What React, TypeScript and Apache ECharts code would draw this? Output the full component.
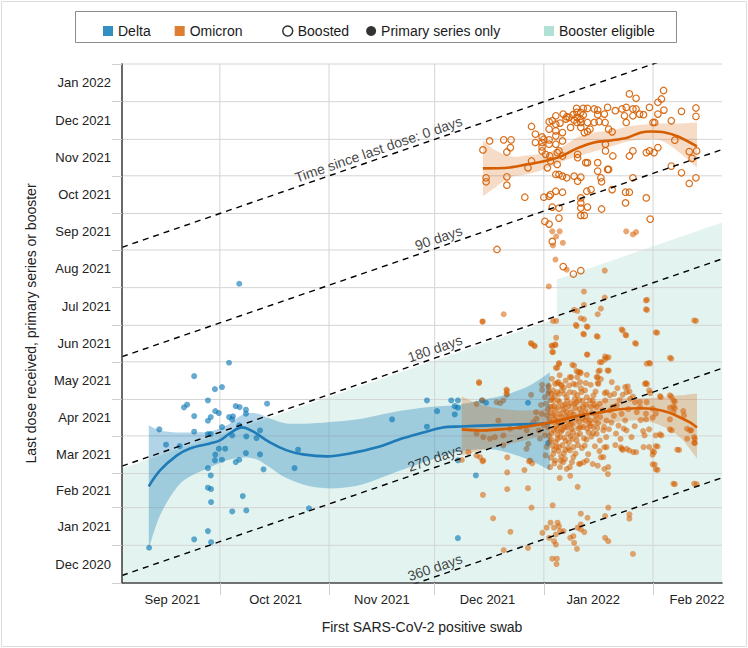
import React, { useEffect, useRef } from "react";
import * as echarts from "echarts";

// x: days since 2021-09-01 (first positive swab); y: days since 2020-12-01 (last dose)
const X_MIN = 2.2;
const X_MAX = 172.6;
const Y_MIN = 0;
const Y_MAX = 427;
const X_TO_Y_SHIFT = 274; // 2021-09-01 minus 2020-12-01, in days

const X_MONTH_STARTS = [30, 61, 91, 122, 153];
const X_LABEL_POS = [16.5, 45.8, 76, 106, 136, 165.5];
const X_LABELS = ["Sep 2021", "Oct 2021", "Nov 2021", "Dec 2021", "Jan 2022", "Feb 2022"];

const Y_MONTH_STARTS = [0, 31, 62, 90, 121, 151, 182, 212, 243, 274, 304, 335, 365, 396, 427];
const Y_LABEL_POS = [15.5, 46.5, 76, 105.5, 136, 166.5, 197, 227.5, 258.5, 289, 319.5, 350, 380.5, 411.5];
const Y_LABELS = [
  "Dec 2020", "Jan 2021", "Feb 2021", "Mar 2021", "Apr 2021", "May 2021", "Jun 2021",
  "Jul 2021", "Aug 2021", "Sep 2021", "Oct 2021", "Nov 2021", "Dec 2021", "Jan 2022",
];

const DOSE_LINE_DAYS = [0, 90, 180, 270, 360];
const DOSE_LINE_LABELS = ["Time since last dose: 0 days", "90 days", "180 days", "270 days", "360 days"];
const DOSE_LABEL_X = 99.5;

// upper edge of the booster-eligible region [x, y]
const BOOSTER_EDGE = [
  [2.2, 94.2],
  [125.7, 217.7],
  [125.7, 249.7],
  [172.6, 296.6],
];

const DELTA_POINTS = [
  [35.5, 246.2], [32.6, 181.2], [22.7, 170.2], [28.6, 159.5], [30.6, 161.2], [19.8, 144.5], [20.7, 146.7],
  [26.6, 150.2], [34.5, 145.5], [35.6, 144.7], [43.4, 147.5], [12.8, 126.4], [22.7, 137.3], [27.4, 136.5],
  [28.7, 141.4], [29.7, 139.8], [26.6, 133.5], [32.6, 136.5], [33.7, 137.1], [33.5, 134.4], [37.4, 142.6],
  [37.4, 139.3], [35.5, 129.7], [30.6, 128.3], [22.7, 124.5], [26.6, 122.5], [27.4, 122.5], [33.5, 121.4],
  [37.5, 120.6], [40.4, 119.2], [41.4, 125.5], [14.7, 113.8], [18.6, 112.6], [29.7, 110.5], [31.5, 110.5],
  [28.7, 105.6], [28.6, 100.9], [30.6, 101.4], [34.5, 99.5], [35.5, 101.4], [37.4, 106.9], [41.4, 105.8],
  [52.2, 109.7], [42.4, 93.5], [51.2, 94.5], [26.6, 94.5], [27.4, 88.5], [26.6, 78.4], [27.5, 77.3],
  [27.5, 66.6], [36.5, 71.5], [33.5, 58.9], [37.5, 59.7], [55.3, 61.4], [22.7, 35.9], [26.6, 42.7],
  [27.5, 33.6], [9.9, 29.0], [78.9, 134.6], [88.8, 150.2], [91.7, 141.4], [88.8, 128.6], [95.7, 150.2],
  [96.7, 145.5], [96.7, 138.7], [97.6, 150.2], [97.6, 144.2], [97.6, 100.9], [97.6, 36.9], [104.4, 150.2],
  [105.6, 148.3], [102.7, 88.5], [117.5, 148.3], [123.2, 115.1],
];

const OMICRON_BOOSTED_POINTS = [
  [104.7, 356.3], [106.6, 363.7], [110.6, 364.6], [112.7, 364.6], [112.5, 358.2], [111.5, 354.6], [105.6, 333.4],
  [105.6, 330.1], [111.5, 334.2], [111.5, 327.3], [116.6, 317.4], [117.5, 341.6], [118.5, 347.2], [118.5, 375.6],
  [119.6, 369.3], [119.6, 362.4], [121.5, 367.0], [121.5, 362.4], [121.5, 358.8], [122.0, 365.1], [123.5, 379.5],
  [123.5, 373.4], [123.5, 364.6], [123.5, 361.0], [124.4, 380.3], [125.4, 384.4], [125.4, 377.5], [125.4, 372.0],
  [125.4, 367.9], [125.4, 361.0], [126.3, 355.5], [126.6, 378.4], [127.3, 370.6], [127.3, 363.7], [127.5, 385.8],
  [128.3, 381.7], [128.5, 383.6], [129.2, 383.1], [129.6, 374.8], [130.3, 385.3], [130.6, 380.9], [131.3, 390.5],
  [131.4, 387.2], [131.4, 383.1], [131.4, 378.9], [132.5, 387.2], [132.5, 381.7], [132.5, 378.9], [132.5, 374.8],
  [133.2, 390.5], [133.2, 385.0], [133.5, 370.6], [134.4, 390.5], [134.4, 378.9], [134.4, 371.5], [135.1, 373.4],
  [136.3, 390.0], [136.3, 378.9], [137.3, 389.1], [137.3, 385.3], [137.7, 379.5], [139.2, 385.8], [139.4, 378.9],
  [140.1, 391.3], [140.4, 373.4], [141.4, 371.2], [142.3, 388.6], [144.2, 390.0], [144.9, 384.4], [145.4, 378.9],
  [145.4, 391.3], [146.3, 402.4], [147.3, 390.0], [147.3, 384.4], [148.2, 398.8], [148.2, 390.0], [149.2, 385.8],
  [150.3, 385.3], [152.0, 391.3], [153.0, 378.9], [153.5, 378.9], [154.4, 395.5], [154.4, 385.8], [155.4, 398.2],
  [156.0, 405.2], [156.1, 389.1], [158.2, 380.3], [161.1, 388.0], [165.2, 390.8], [165.2, 383.9], [121.5, 355.5],
  [122.5, 352.7], [123.7, 351.3], [125.8, 354.1], [127.3, 351.3], [131.6, 352.7], [131.6, 349.9], [134.4, 345.8],
  [137.3, 345.8], [140.1, 340.3], [139.5, 361.0], [139.5, 355.5], [141.6, 351.3], [146.3, 351.3], [147.3, 355.5],
  [151.1, 354.1], [152.0, 355.5], [153.3, 354.1], [154.4, 358.2], [159.2, 364.3], [163.3, 354.9], [164.1, 349.4],
  [165.4, 355.5], [123.0, 341.6], [123.9, 347.2], [125.8, 344.4], [125.4, 336.1], [126.3, 336.1], [127.3, 334.7],
  [128.5, 333.4], [130.6, 334.7], [132.5, 333.9], [131.6, 330.6], [137.3, 338.9], [138.2, 333.4], [138.4, 330.1],
  [140.4, 340.3], [133.9, 345.8], [147.3, 333.4], [158.2, 343.0], [161.1, 337.5], [163.3, 328.7], [165.2, 333.4],
  [122.0, 317.4], [123.5, 318.2], [123.9, 319.6], [125.4, 322.3], [127.3, 321.5], [134.2, 322.3], [135.4, 323.7],
  [141.4, 323.7], [145.2, 321.5], [146.3, 321.5], [145.2, 312.7], [151.1, 316.8], [124.4, 309.3], [126.3, 308.5],
  [132.5, 316.8], [132.5, 312.7], [132.5, 308.5], [134.4, 309.3], [138.4, 307.7], [132.5, 302.4], [133.5, 302.4],
  [126.3, 300.2], [122.3, 297.5], [123.5, 295.3], [152.2, 299.4], [108.7, 274.4], [124.4, 281.0], [127.5, 260.3],
  [130.4, 254.2], [132.5, 257.0],
];

const OMICRON_PRIMARY_POINTS = [
  [124.4, 289.3], [125.5, 285.1], [126.5, 289.3], [145.4, 289.3], [147.3, 286.8], [148.2, 288.7], [127.4, 279.9],
  [124.6, 277.7], [125.3, 266.1], [128.5, 257.8], [123.4, 244.0], [139.3, 257.0], [133.4, 239.8], [139.3, 234.9],
  [151.3, 233.0], [151.3, 224.7], [133.4, 228.8], [138.2, 225.8], [137.3, 221.1], [130.6, 224.7], [131.5, 223.8],
  [132.5, 217.8], [133.4, 216.9], [104.6, 215.0], [110.6, 221.1], [124.6, 215.6], [125.5, 215.6], [131.3, 211.4],
  [134.4, 210.6], [144.4, 207.8], [145.4, 203.7], [154.2, 205.9], [165.2, 215.6], [125.5, 201.8], [137.3, 202.6],
  [133.4, 204.5], [148.2, 196.8], [118.5, 196.8], [119.4, 194.8], [124.4, 194.8], [125.3, 195.7], [124.6, 189.9],
  [134.4, 187.9], [158.2, 184.6], [139.3, 183.8], [140.4, 185.7], [152.2, 180.5], [138.4, 181.6], [126.3, 180.2],
  [125.8, 176.9], [130.6, 178.8], [131.8, 173.6], [129.8, 169.2], [131.5, 169.4], [132.5, 172.7], [137.3, 169.2],
  [138.2, 167.8], [140.4, 174.7], [137.5, 174.1], [103.6, 164.5], [111.5, 158.1], [111.5, 154.8], [109.6, 147.9],
  [118.4, 154.8], [121.5, 163.1], [121.5, 158.9], [123.4, 162.5], [123.4, 157.6], [124.4, 152.0], [125.8, 164.5],
  [126.8, 163.1], [129.2, 162.5], [131.1, 163.1], [132.5, 160.3], [133.9, 164.5], [135.3, 163.1], [137.3, 164.5],
  [139.3, 156.2], [142.0, 155.6], [142.9, 160.3], [144.4, 154.8], [145.8, 161.7], [146.3, 157.6], [147.3, 153.4],
  [151.3, 163.7], [152.2, 156.2], [155.2, 152.9], [158.2, 153.4], [159.2, 149.3], [159.2, 143.8],
  [104.6, 215.2], [131.1, 212.4], [134.2, 211.1], [133.2, 205.0], [137.0, 203.1], [144.1, 208.6], [145.2, 204.2],
  [147.9, 197.4], [118.3, 197.4], [119.3, 195.4], [124.2, 195.4], [125.2, 196.3], [124.4, 190.0], [134.2, 188.0],
  [139.4, 186.4], [139.8, 185.3], [137.9, 181.7], [151.2, 180.4], [126.3, 180.9], [130.1, 179.5], [125.4, 177.1],
  [131.3, 174.3], [132.3, 173.5], [134.2, 171.3], [137.9, 174.9], [140.1, 174.9], [137.0, 169.4], [137.5, 163.9],
  [103.6, 165.3], [111.4, 159.2], [111.4, 155.7], [110.5, 150.2], [108.6, 148.8], [104.6, 150.2], [102.9, 147.4],
  [109.1, 133.7], [102.9, 122.8], [104.8, 120.0], [106.7, 118.7], [108.1, 120.0], [110.5, 121.4], [112.4, 126.9],
  [115.2, 128.3], [117.1, 125.5], [119.0, 132.4], [119.9, 135.1], [121.4, 139.2], [122.3, 152.9], [123.3, 161.2],
  [123.3, 155.7], [124.2, 155.7], [125.2, 163.9], [126.1, 165.3], [127.1, 162.5], [127.1, 158.4], [128.5, 152.9],
  [129.4, 157.0], [129.4, 169.4], [130.4, 163.9], [130.8, 151.6], [131.3, 148.8], [132.3, 165.3], [132.7, 157.0],
  [133.7, 158.4], [134.2, 152.9], [135.1, 150.2], [136.1, 154.3], [137.0, 144.7], [137.9, 147.4], [139.4, 150.2],
  [139.8, 157.0], [140.8, 154.3], [141.3, 165.3], [145.1, 161.2], [145.5, 157.0], [146.5, 151.6], [147.9, 148.8],
  [148.4, 140.6], [149.3, 144.7], [150.7, 163.9], [151.2, 148.8], [126.1, 150.2], [126.1, 144.7], [126.6, 139.2],
  [127.5, 133.7], [128.5, 128.3], [128.9, 122.8], [126.6, 120.0], [125.6, 111.8], [124.7, 106.3], [125.2, 100.8],
  [123.8, 95.4], [129.4, 109.1], [130.4, 111.8], [131.3, 117.3], [132.3, 122.8], [133.2, 128.3], [133.7, 133.7],
  [134.2, 136.5], [135.1, 133.7], [136.1, 128.3], [137.0, 122.8], [137.9, 117.3], [138.9, 125.5], [139.8, 133.7],
  [140.8, 142.0], [142.7, 146.1], [144.1, 139.2], [145.1, 133.7], [145.5, 125.5], [146.9, 120.0], [147.4, 107.7],
  [144.1, 110.4], [139.8, 111.8], [138.9, 103.6], [134.2, 100.8], [132.3, 98.1], [130.4, 103.6], [129.4, 95.4],
  [127.5, 99.5], [126.6, 95.4], [140.3, 95.4], [110.5, 113.2], [117.1, 110.4], [117.6, 114.5], [120.9, 118.7],
  [122.3, 121.4], [102.9, 104.9], [104.8, 100.8], [118.1, 100.8], [145.5, 110.4], [150.3, 111.8],
  [98.7, 101.2], [100.6, 107.6], [103.9, 103.4], [104.6, 100.1], [104.7, 72.5], [107.6, 53.2], [110.6, 27.0],
  [111.6, 103.4], [111.6, 91.0], [111.6, 77.2], [112.5, 42.1], [116.5, 92.9], [117.5, 78.0], [117.5, 28.9],
  [118.5, 62.0], [117.8, 100.1], [118.7, 98.5], [124.5, 63.9], [121.6, 41.3], [122.8, 45.5], [123.5, 37.2],
  [123.9, 49.6], [124.9, 45.5], [125.4, 39.9], [125.9, 49.6], [126.3, 46.8], [126.6, 42.7], [124.9, 34.4],
  [125.4, 31.6], [124.4, 20.0], [125.7, 20.0], [125.6, 15.6], [127.6, 42.7], [129.5, 37.2], [130.4, 38.5],
  [130.6, 33.0], [131.4, 28.1], [131.6, 45.5], [132.5, 57.0], [132.5, 48.2], [133.5, 41.9], [134.4, 53.7],
  [132.5, 44.1], [131.6, 79.1], [129.5, 88.2], [126.5, 86.3], [128.5, 93.8], [139.4, 37.2], [140.3, 34.4],
  [140.3, 62.0], [139.4, 55.1], [146.3, 56.5], [146.3, 52.9], [147.3, 23.9], [159.2, 81.3], [165.4, 81.3],
  [144.4, 109.5], [146.3, 109.0], [148.2, 107.6], [150.6, 121.4], [153.3, 107.6], [153.5, 97.4], [154.3, 93.0],
  [154.3, 112.3], [155.4, 121.4], [158.3, 125.5], [160.4, 109.5], [163.5, 125.5], [164.9, 118.6], [164.9, 115.0],
  [140.2, 89.6], [139.2, 93.8], [138.2, 103.4], [137.3, 96.5], [135.9, 97.9], [133.3, 99.3], [132.0, 97.9],
  [139.2, 111.7], [143.9, 111.7],
  [151.0, 232.5], [151.0, 225.1], [164.7, 216.0], [153.8, 206.2], [151.9, 181.2], [157.8, 185.3], [151.0, 164.5],
  [151.9, 158.5], [155.0, 153.8], [157.8, 154.4], [158.8, 150.2], [149.3, 148.9], [152.9, 143.4], [153.8, 139.3],
  [151.0, 139.3], [151.0, 134.6], [152.9, 136.0], [157.8, 144.2], [158.8, 145.3], [158.8, 140.6], [157.8, 134.6],
  [161.6, 141.5], [161.8, 137.9], [151.9, 126.4], [157.8, 126.4], [162.7, 126.9], [163.9, 125.6], [153.8, 121.4],
  [155.0, 122.3], [164.7, 120.1], [164.7, 115.4], [162.7, 118.7], [151.9, 111.9], [152.9, 108.6], [152.9, 105.5],
  [153.8, 112.7], [159.9, 109.7], [152.9, 97.6], [153.8, 93.5], [158.8, 81.7], [164.7, 81.7],
  [124.0, 140.0], [124.3, 132.5], [124.8, 126.0], [124.1, 118.0], [124.5, 113.0], [125.0, 145.5], [125.3, 137.0],
  [125.6, 129.5], [125.9, 122.0], [125.4, 116.0], [126.2, 108.5], [126.9, 104.0], [127.3, 113.5], [127.8, 119.5],
  [127.2, 126.0], [127.6, 142.5], [128.0, 147.0], [128.3, 137.5], [128.8, 133.0], [129.1, 115.5], [129.6, 120.5],
  [129.9, 126.5], [130.2, 131.0], [130.5, 138.5], [130.9, 144.0], [131.5, 154.5], [131.8, 127.0], [132.0, 132.5],
  [132.6, 139.5], [133.1, 145.0], [133.6, 113.0], [134.1, 118.0], [134.7, 124.0], [135.2, 129.0], [135.7, 140.0],
  [136.3, 146.5], [136.8, 138.0], [137.4, 131.5], [138.0, 136.5], [138.6, 142.0], [139.1, 128.5], [139.7, 120.0],
  [140.5, 126.5], [141.2, 132.0], [141.9, 137.5], [142.5, 123.0], [143.2, 129.5], [143.8, 118.5], [123.6, 134.5],
  [123.2, 128.0], [122.8, 112.0], [122.5, 105.0], [121.9, 130.0], [121.2, 146.5], [120.6, 125.5], [119.8, 140.5],
  [126.0, 133.0], [128.1, 109.5], [130.0, 99.5], [131.0, 106.5], [132.8, 111.0], [134.6, 106.0], [136.5, 112.5],
  [135.5, 120.5], [137.8, 108.5], [124.7, 150.0], [127.9, 155.5], [129.7, 148.0], [133.0, 150.0], [136.7, 157.5],
  [125.8, 157.0], [124.3, 168.0], [126.5, 171.0], [128.2, 166.5], [141.6, 145.0], [143.5, 150.5], [142.3, 113.5],
  [144.7, 127.0], [146.0, 143.0], [147.8, 129.0], [149.5, 134.0], [150.2, 125.0],
  [123.8, 145.0], [123.9, 150.5], [124.2, 123.0], [124.6, 137.5], [124.9, 109.5], [125.1, 154.0], [125.2, 141.5],
  [125.5, 133.5], [125.7, 126.5], [125.9, 118.5], [126.3, 112.0], [126.4, 149.0], [126.7, 130.0], [126.9, 124.5],
  [127.0, 136.5], [127.4, 146.0], [127.7, 106.5], [127.9, 128.5], [128.2, 117.0], [128.4, 141.0], [128.6, 150.0],
  [128.9, 111.0], [129.2, 137.0], [129.5, 130.5], [129.8, 140.5], [130.1, 118.5], [130.3, 124.0], [130.7, 147.5],
  [131.1, 135.0], [131.4, 121.5], [131.7, 113.5], [132.2, 143.0], [132.4, 128.0], [132.9, 135.5], [133.4, 119.0],
  [133.8, 141.5], [134.3, 127.0], [134.9, 131.5], [135.4, 145.0], [136.0, 123.5], [136.6, 134.0], [137.2, 127.5],
  [124.4, 145.0], [124.0, 103.0], [125.0, 98.5], [126.8, 100.5], [128.0, 102.0], [123.7, 116.5], [123.5, 121.0],
  [122.9, 138.0], [123.1, 143.0], [122.6, 147.5], [124.6, 158.5], [126.3, 155.5], [127.7, 160.5], [129.0, 145.5],
  [130.6, 156.5], [132.0, 150.5], [134.0, 146.5], [135.9, 150.0],
];

// smoothed fits [x, y]
const DELTA_FIT = [
  [9.8, 79.5], [13.0, 92.6], [17.8, 105.0], [21.5, 110.7], [27.2, 114.8], [30.0, 117.3], [32.8, 123.1],
  [36.3, 128.0], [39.4, 124.7], [44.2, 115.7], [49.0, 109.1], [53.6, 105.8], [60.4, 104.2], [66.9, 106.6],
  [74.6, 111.6], [81.9, 119.0], [88.8, 124.7], [93.3, 128.0], [98.2, 128.8], [106.7, 129.7], [115.2, 130.5],
  [123.7, 131.3],
];
// confidence bands [x, lower, upper]
const DELTA_BAND = [
  [9.8, 28.5, 129.7], [13.0, 55.6, 125.5], [17.8, 78.7, 123.9], [21.5, 87.7, 123.9], [27.2, 95.1, 124.7],
  [32.0, 100.9, 129.7], [36.5, 103.3, 138.7], [40.5, 101.7, 139.5], [44.2, 95.1, 135.4], [49.0, 86.1, 131.3],
  [55.6, 79.5, 131.3], [63.2, 77.9, 132.9], [70.6, 81.2, 135.4], [79.1, 90.2, 140.4], [88.8, 100.1, 144.5],
  [98.2, 108.3, 146.9], [106.7, 110.0, 151.9], [112.4, 106.7, 156.0], [118.1, 100.9, 162.6], [123.7, 92.6, 173.3],
];
const PRIMARY_FIT = [
  [98.7, 126.4], [103.9, 125.5], [109.5, 126.4], [115.2, 128.0], [120.9, 130.5], [126.6, 133.8], [132.3, 137.9],
  [138.0, 140.4], [143.6, 143.0], [149.3, 143.8], [153.6, 143.0], [157.3, 140.4], [160.7, 136.2], [163.5, 132.1],
  [165.5, 128.0],
];
const PRIMARY_BAND = [
  [98.7, 105.0, 153.5], [103.9, 109.1, 146.9], [109.5, 112.4, 143.6], [115.2, 116.5, 142.0], [120.9, 120.6, 142.8],
  [126.6, 123.9, 145.3], [132.3, 127.2, 148.6], [138.0, 130.5, 150.2], [143.6, 132.9, 151.9], [149.3, 133.8, 151.9],
  [155.0, 129.7, 152.7], [160.7, 119.8, 154.4], [165.5, 102.5, 156.0],
];
const BOOSTED_FIT = [
  [104.7, 341.1], [112.4, 341.9], [117.2, 344.4], [122.0, 346.9], [126.9, 351.0], [131.4, 357.6], [136.3, 362.5],
  [141.1, 364.1], [145.9, 366.6], [149.6, 370.7], [152.4, 371.5], [156.4, 370.7], [160.1, 367.4], [165.5, 359.2],
];
const BOOSTED_BAND = [
  [104.7, 318.2, 364.1], [107.9, 324.8, 356.7], [112.4, 333.8, 351.0], [117.2, 336.3, 351.8], [122.0, 340.3, 353.5],
  [126.9, 346.1, 358.4], [131.4, 351.0, 366.6], [136.3, 355.1, 370.7], [141.1, 359.2, 372.3], [145.9, 363.3, 375.6],
  [150.5, 364.9, 377.2], [155.3, 364.1, 378.1], [160.1, 355.1, 378.1], [165.5, 341.9, 378.9],
];

const DELTA_COLOR = "#0072B2";
const OMICRON_COLOR = "#D55E00";
const FONT = "'Liberation Sans', Arial, Helvetica, sans-serif";

function lookup(positions: number[], labels: string[]) {
  return (v: number) => {
    for (let i = 0; i < positions.length; i++) {
      if (Math.abs(positions[i] - v) < 0.05) return labels[i];
    }
    return "";
  };
}

// Catmull-Rom style cubic segments through pixel points (rendering only)
function curveSegments(pts: number[][]): string {
  let d = "";
  for (let i = 0; i < pts.length - 1; i++) {
    const p0 = pts[Math.max(0, i - 1)];
    const p1 = pts[i];
    const p2 = pts[i + 1];
    const p3 = pts[Math.min(pts.length - 1, i + 2)];
    const c1x = p1[0] + (p2[0] - p0[0]) / 6;
    const c1y = p1[1] + (p2[1] - p0[1]) / 6;
    const c2x = p2[0] - (p3[0] - p1[0]) / 6;
    const c2y = p2[1] - (p3[1] - p1[1]) / 6;
    d += ` C${c1x},${c1y} ${c2x},${c2y} ${p2[0]},${p2[1]}`;
  }
  return d;
}

function bandSeries(rows: number[][], color: string) {
  return {
    type: "custom",
    z: 4,
    silent: true,
    data: [[rows[0][0], rows[0][1]]],
    renderItem: (_p: any, api: any) => {
      const up = rows.map((r) => api.coord([r[0], r[2]]));
      const lo = rows.map((r) => api.coord([r[0], r[1]])).reverse();
      const d =
        `M${up[0][0]},${up[0][1]}` +
        curveSegments(up) +
        ` L${lo[0][0]},${lo[0][1]}` +
        curveSegments(lo) +
        " Z";
      return { type: "path", shape: { pathData: d }, style: { fill: color } };
    },
  };
}

function fitSeries(data: number[][], color: string) {
  return {
    type: "line",
    z: 5,
    silent: true,
    symbol: "none",
    smooth: 0.35,
    lineStyle: { color, width: 2.6 },
    data,
  };
}

function buildOption() {
  const dashedSeries = DOSE_LINE_DAYS.map((n) => ({
    type: "line",
    z: 6,
    silent: true,
    symbol: "none",
    clip: true,
    lineStyle: { color: "#000", width: 1.4, type: [6, 5] },
    data: [
      [X_MIN, X_MIN + X_TO_Y_SHIFT - n],
      [X_MAX, X_MAX + X_TO_Y_SHIFT - n],
    ],
  }));

  const legendText = { fontSize: 14, color: "#1a1a1a", fontFamily: FONT };

  return {
    animation: false,
    textStyle: { fontFamily: FONT },
    grid: { left: 122, right: 26, top: 64, bottom: 65, containLabel: false },
    graphic: [
      {
        type: "rect",
        z: 100,
        silent: true,
        shape: { x: 1.5, y: 1.5, width: 745, height: 645 },
        style: { fill: "none", stroke: "#dcdcdc", lineWidth: 1 },
      },
      {
        type: "rect",
        z: 100,
        silent: true,
        shape: { x: 75.5, y: 11.5, width: 601, height: 31 },
        style: { fill: "none", stroke: "#8c8c8c", lineWidth: 1 },
      },
    ],
    legend: [
      {
        left: 98,
        top: 19,
        itemGap: 24,
        itemWidth: 10,
        itemHeight: 10,
        selectedMode: false,
        textStyle: legendText,
        data: [
          { name: "Delta", icon: "rect", itemStyle: { color: DELTA_COLOR } },
          { name: "Omicron", icon: "rect", itemStyle: { color: OMICRON_COLOR } },
        ],
      },
      {
        left: 277,
        top: 19,
        itemGap: 17,
        itemWidth: 10,
        itemHeight: 10,
        selectedMode: false,
        textStyle: legendText,
        data: [
          { name: "Boosted", icon: "circle", itemStyle: { color: "#ffffff", borderColor: "#000", borderWidth: 1.5 } },
          { name: "Primary series only", icon: "circle", itemStyle: { color: "#000", borderWidth: 0 } },
        ],
      },
      {
        left: 539,
        top: 19,
        itemWidth: 10,
        itemHeight: 10,
        selectedMode: false,
        textStyle: legendText,
        data: [{ name: "Booster eligible", icon: "rect", itemStyle: { color: "rgba(0,158,115,0.38)" } }],
      },
    ],
    xAxis: {
      type: "value",
      min: X_MIN,
      max: X_MAX,
      z: 10,
      axisLine: { show: true, onZero: false, lineStyle: { color: "#444", width: 1.6 } },
      axisTick: { show: true, customValues: X_MONTH_STARTS, length: 12, lineStyle: { color: "#cfcfcf", width: 1 } },
      axisLabel: {
        show: true,
        customValues: X_LABEL_POS,
        formatter: lookup(X_LABEL_POS, X_LABELS),
        fontSize: 13,
        color: "#222",
        margin: 10,
        fontFamily: FONT,
      },
      splitLine: { show: false },
      name: "First SARS-CoV-2 positive swab",
      nameLocation: "middle",
      nameGap: 37,
      nameTextStyle: { fontSize: 14, color: "#222", fontFamily: FONT },
    },
    yAxis: {
      type: "value",
      min: Y_MIN,
      max: Y_MAX,
      z: 10,
      axisLine: { show: true, onZero: false, lineStyle: { color: "#444", width: 1.6 } },
      axisTick: { show: true, customValues: Y_MONTH_STARTS, length: 10, lineStyle: { color: "#cfcfcf", width: 1 } },
      axisLabel: {
        show: true,
        customValues: Y_LABEL_POS,
        formatter: lookup(Y_LABEL_POS, Y_LABELS),
        fontSize: 13,
        color: "#222",
        margin: 11,
        fontFamily: FONT,
      },
      splitLine: { show: false },
      name: "Last dose received, primary series or booster",
      nameLocation: "middle",
      nameGap: 84,
      nameTextStyle: { fontSize: 14, color: "#222", fontFamily: FONT },
    },
    series: [
      // booster eligible region
      {
        type: "custom",
        z: 1,
        silent: true,
        data: [[X_MIN, Y_MIN]],
        renderItem: (_p: any, api: any) => {
          const pts = [
            api.coord([X_MIN, Y_MIN]),
            ...BOOSTER_EDGE.map((p) => api.coord(p)),
            api.coord([X_MAX, Y_MIN]),
          ];
          return { type: "polygon", shape: { points: pts }, style: { fill: "rgba(0,158,115,0.11)" } };
        },
      },
      // grid lines at month boundaries
      {
        type: "custom",
        z: 2,
        silent: true,
        data: [[X_MIN, Y_MIN]],
        renderItem: (_p: any, api: any) => {
          const children: any[] = [];
          X_MONTH_STARTS.forEach((x) => {
            const a = api.coord([x, Y_MIN]);
            const b = api.coord([x, Y_MAX]);
            children.push({
              type: "line",
              shape: { x1: a[0], y1: a[1], x2: b[0], y2: b[1] },
              style: { stroke: "#d4d4d4", lineWidth: 1 },
            });
          });
          Y_MONTH_STARTS.filter((y) => y > Y_MIN).forEach((y) => {
            const a = api.coord([X_MIN, y]);
            const b = api.coord([X_MAX, y]);
            children.push({
              type: "line",
              shape: { x1: a[0], y1: a[1], x2: b[0], y2: b[1] },
              style: { stroke: "#d4d4d4", lineWidth: 1 },
            });
          });
          return { type: "group", children };
        },
      },
      // points
      {
        type: "scatter",
        name: "deltaPts",
        z: 3,
        silent: true,
        symbolSize: 6,
        itemStyle: { color: DELTA_COLOR, opacity: 0.6 },
        data: DELTA_POINTS,
      },
      {
        type: "scatter",
        name: "primaryPts",
        z: 3,
        silent: true,
        symbolSize: 6,
        itemStyle: { color: OMICRON_COLOR, opacity: 0.55 },
        data: OMICRON_PRIMARY_POINTS,
      },
      {
        type: "scatter",
        name: "boostedPts",
        z: 3,
        silent: true,
        symbolSize: 6.5,
        itemStyle: { color: "rgba(0,0,0,0)", borderColor: OMICRON_COLOR, borderWidth: 1.2, opacity: 0.9 },
        data: OMICRON_BOOSTED_POINTS,
      },
      // confidence bands
      bandSeries(DELTA_BAND, "rgba(0,114,178,0.3)"),
      bandSeries(PRIMARY_BAND, "rgba(213,94,0,0.26)"),
      bandSeries(BOOSTED_BAND, "rgba(213,94,0,0.22)"),
      // fitted lines
      fitSeries(DELTA_FIT, "#1f7ab8"),
      fitSeries(PRIMARY_FIT, OMICRON_COLOR),
      fitSeries(BOOSTED_FIT, OMICRON_COLOR),
      ...dashedSeries,
      // labels along the dashed lines
      {
        type: "scatter",
        z: 7,
        silent: true,
        symbolSize: 1,
        itemStyle: { color: "rgba(0,0,0,0)" },
        data: DOSE_LINE_DAYS.map((n, i) => ({
          name: DOSE_LINE_LABELS[i],
          value: [DOSE_LABEL_X, DOSE_LABEL_X + X_TO_Y_SHIFT - n],
        })),
        label: {
          show: true,
          formatter: "{b}",
          position: "inside",
          align: "right",
          verticalAlign: "bottom",
          rotate: 19.05,
          fontSize: 14,
          color: "#111",
          fontFamily: FONT,
          padding: [0, 0, 2, 0],
        },
      },
      // legend entries
      { type: "scatter", name: "Delta", data: [] },
      { type: "scatter", name: "Omicron", data: [] },
      { type: "scatter", name: "Boosted", data: [] },
      { type: "scatter", name: "Primary series only", data: [] },
      { type: "scatter", name: "Booster eligible", data: [] },
    ],
  };
}

export default function App() {
  const ref = useRef<HTMLDivElement>(null);
  useEffect(() => {
    if (!ref.current) return;
    const chart = echarts.init(ref.current, null, { renderer: "svg" });
    chart.setOption(buildOption() as any);
    return () => chart.dispose();
  }, []);
  return (
    <div
      ref={ref}
      style={{ position: "absolute", left: 0, top: 0, width: 748, height: 648, background: "#ffffff" }}
    />
  );
}
